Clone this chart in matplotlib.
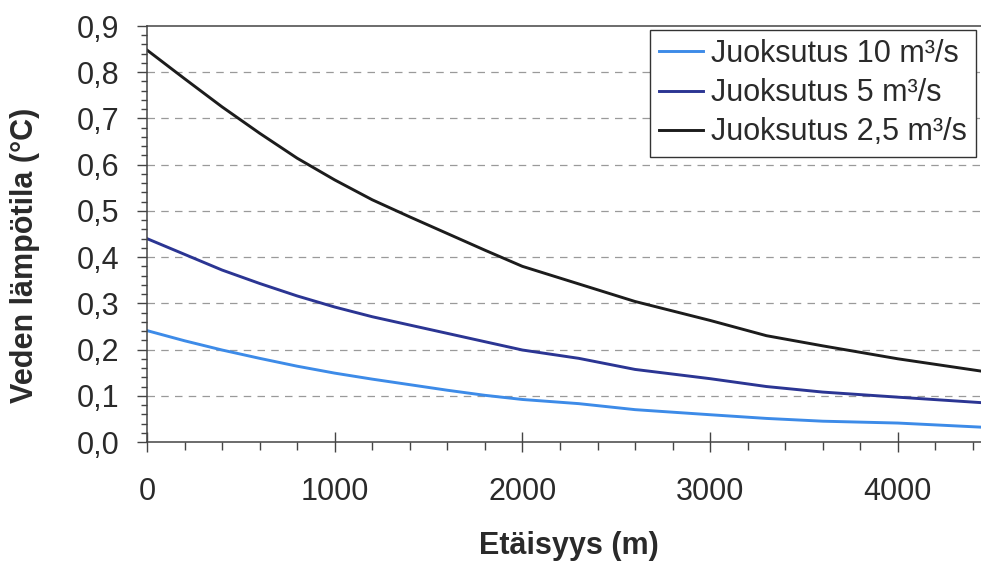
import matplotlib
matplotlib.use("Agg")
import matplotlib.pyplot as plt
from matplotlib.ticker import FuncFormatter, MultipleLocator

# distances (m) and water temperature rise (deg C)
distance = [0, 200, 400, 600, 800, 1000, 1200, 1400, 1600, 1800, 2000,
            2300, 2600, 3000, 3300, 3600, 4000, 4450]
flow_10 = [0.241, 0.219, 0.199, 0.181, 0.164, 0.149, 0.136, 0.124, 0.112,
           0.101, 0.092, 0.083, 0.070, 0.059, 0.051, 0.045, 0.041, 0.032]
flow_5 = [0.440, 0.406, 0.372, 0.343, 0.316, 0.292, 0.271, 0.253, 0.235,
          0.217, 0.199, 0.181, 0.157, 0.137, 0.120, 0.108, 0.097, 0.085]
flow_25 = [0.848, 0.786, 0.725, 0.668, 0.614, 0.567, 0.524, 0.487, 0.451,
           0.415, 0.380, 0.342, 0.304, 0.263, 0.230, 0.208, 0.180, 0.153]
labels = ["Juoksutus 10 m³/s", "Juoksutus 5 m³/s", "Juoksutus 2,5 m³/s"]

plt.rcParams["font.family"] = ["Liberation Sans", "DejaVu Sans"]

W, H = 981, 565
fig = plt.figure(figsize=(W / 100, H / 100), dpi=100)
ax = fig.add_axes([147 / W, 1 - 442 / H, 1 - 147 / W, (442 - 26) / H])

ax.plot(distance, flow_10, color="#3d8be8", lw=2.1, label=labels[0])
ax.plot(distance, flow_5, color="#2b3593", lw=2.1, label=labels[1])
ax.plot(distance, flow_25, color="#1c1c1c", lw=2.1, label=labels[2])

ax.set_xlim(0, 4443)
ax.set_ylim(0, 0.9)

ax.xaxis.set_major_locator(MultipleLocator(1000))
ax.xaxis.set_minor_locator(MultipleLocator(200))
ax.yaxis.set_major_locator(MultipleLocator(0.1))
ax.yaxis.set_minor_locator(MultipleLocator(0.02))
ax.yaxis.set_major_formatter(FuncFormatter(lambda v, p: f"{v:.1f}".replace(".", ",")))

ax.tick_params(axis="x", which="major", direction="inout", length=14,
               width=1, color="#444444", pad=18, labelsize=22, labelcolor="#2a2a2a")
ax.tick_params(axis="x", which="minor", direction="out", length=5.5,
               width=1, color="#444444")
ax.tick_params(axis="y", which="major", direction="out", length=7,
               width=1, color="#444444", pad=13, labelsize=22, labelcolor="#2a2a2a")
ax.tick_params(axis="y", which="minor", direction="out", length=4.5,
               width=1, color="#444444")

for side in ["left", "bottom", "top"]:
    ax.spines[side].set_color("#444444")
    ax.spines[side].set_linewidth(1.1)
ax.spines["right"].set_visible(False)

for yv in [0.1, 0.2, 0.3, 0.4, 0.5, 0.6, 0.7, 0.8]:
    ax.axhline(yv, color="#9a9a9a", lw=0.9, ls=(0, (6, 5)), zorder=0)

fig.text(25 / W, 1 - 255 / H, "Veden lämpötila (°C)", rotation=90,
         ha="center", va="center", fontsize=22, fontweight="bold", color="#2a2a2a")
fig.text(569 / W, 1 - 546 / H, "Etäisyys (m)", ha="center", va="center",
         fontsize=22, fontweight="bold", color="#2a2a2a")

leg = ax.legend(loc="upper left", bbox_to_anchor=(650 / W, 1 - 30 / H),
                bbox_transform=fig.transFigure, borderaxespad=0, fontsize=22,
                handlelength=1.45, handletextpad=0.25, labelspacing=0.3,
                borderpad=0.3, fancybox=False, framealpha=1,
                edgecolor="#333333")
leg.get_frame().set_linewidth(1.0)
for t in leg.get_texts():
    t.set_color("#2a2a2a")

fig.savefig("out.png", dpi=100)
